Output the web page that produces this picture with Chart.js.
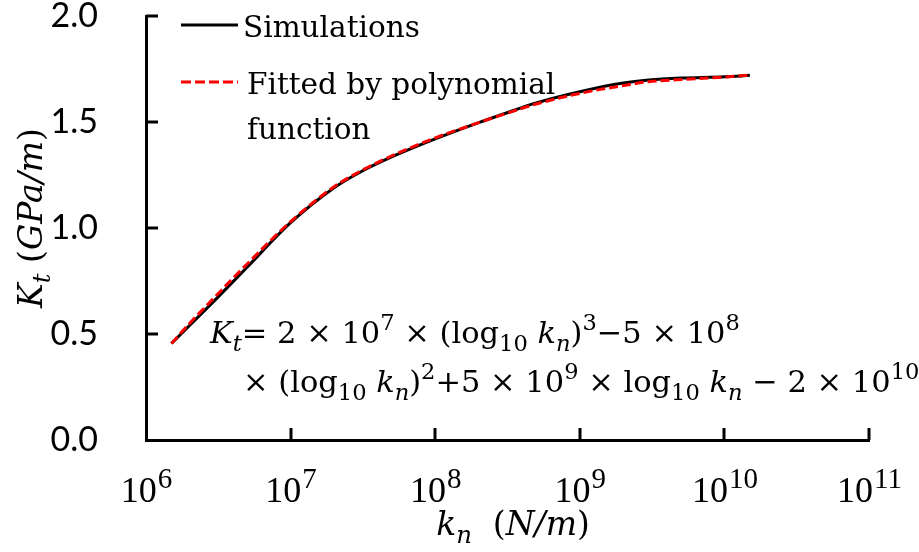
<!DOCTYPE html>
<html>
<head>
<meta charset="utf-8">
<script src="https://cdn.jsdelivr.net/npm/chart.js@4/dist/chart.umd.min.js"></script>
<style>
html,body{margin:0;padding:0;background:#fff;}
#wrap{width:919px;height:552px;}
</style>
</head>
<body>
<div id="wrap"><canvas id="c" width="919" height="552"></canvas></div>
<script>
// ---- data ----
const knValues = [1.5e6, 2e6, 3e6, 5e6, 1e7, 2e7, 3e7, 5e7, 1e8, 2e8, 3e8, 5e8, 1e9, 2e9, 3e9, 5e9, 1e10, 1.5e10];
const simulationKt = [0.455, 0.54, 0.66, 0.815, 1.025, 1.19, 1.262, 1.335, 1.42, 1.497, 1.539, 1.59, 1.643, 1.684, 1.698, 1.707, 1.713, 1.72];
const fittedKt = [0.455, 0.55, 0.675, 0.83, 1.03, 1.195, 1.266, 1.34, 1.425, 1.497, 1.537, 1.585, 1.635, 1.672, 1.69, 1.70, 1.712, 1.722];
const xTickExponents = [6, 7, 8, 9, 10, 11];
const yTickValues = [0, 0.5, 1.0, 1.5, 2.0];
const legendLabels = [["Simulations"], ["Fitted by polynomial", "function"]];

const SERIF = '"DejaVu Serif", serif';
const NUMSERIF = '"Liberation Serif", serif';

function font(size, italic, fam) { return (italic ? 'italic ' : '') + size + 'px ' + (fam || SERIF); }

// rich text: segments [text, italic, pos] pos: 'b' | 'sub' | 'sup'
function richWidth(ctx, segs, size, fam) {
  let w = 0;
  for (const [t, it, pos] of segs) {
    const s = pos === 'b' ? size : size * 0.74;
    ctx.font = font(s, it, fam);
    w += ctx.measureText(t).width;
  }
  return w;
}
function drawRich(ctx, segs, x, y, size, fam) {
  ctx.textBaseline = 'alphabetic';
  ctx.textAlign = 'left';
  for (const [t, it, pos] of segs) {
    const s = pos === 'b' ? size : size * 0.74;
    const dy = pos === 'sub' ? size * 0.25 : pos === 'sup' ? -size * 0.42 : 0;
    ctx.font = font(s, it, fam);
    ctx.fillText(t, x, y + dy);
    x += ctx.measureText(t).width;
  }
}

const decorPlugin = {
  id: 'decor',
  afterDraw(chart) {
    const ctx = chart.ctx;
    const xs = chart.scales.x, ys = chart.scales.y;
    const ca = chart.chartArea;
    ctx.save();
    ctx.fillStyle = '#000';
    ctx.strokeStyle = '#000';
    // inward tick marks
    ctx.lineWidth = 3;
    ctx.lineCap = 'butt';
    xTickExponents.forEach(e => {
      if (e === xTickExponents[0]) return;
      const px = Math.round(xs.getPixelForValue(Math.pow(10, e)));
      ctx.beginPath(); ctx.moveTo(px, ca.bottom); ctx.lineTo(px, ca.bottom - 12); ctx.stroke();
    });
    yTickValues.forEach(v => {
      if (v === 0) return;
      const py = Math.round(ys.getPixelForValue(v));
      ctx.beginPath(); ctx.moveTo(ca.left, py); ctx.lineTo(ca.left + 12, py); ctx.stroke();
    });
    // x tick labels 10^n
    xTickExponents.forEach(e => {
      const px = xs.getPixelForValue(Math.pow(10, e));
      ctx.font = font(36, false, NUMSERIF);
      const w1 = ctx.measureText('10').width;
      ctx.font = font(29, false, NUMSERIF);
      const w2 = ctx.measureText(String(e)).width;
      const x0 = px - (w1 + w2) / 2;
      ctx.textAlign = 'left'; ctx.textBaseline = 'alphabetic';
      ctx.font = font(36, false, NUMSERIF);
      ctx.fillText('10', x0, 502);
      ctx.font = font(29, false, NUMSERIF);
      ctx.fillText(String(e), x0 + w1 + 1, 488);
    });
    // x title
    const xt = [['k', true, 'b'], ['n', true, 'sub'], ['  (', false, 'b'], ['N/m', true, 'b'], [')', false, 'b']];
    const xw = richWidth(ctx, xt, 33);
    drawRich(ctx, xt, 513 - xw / 2, 535, 33);
    // y title (rotated)
    const yt = [['K', true, 'b'], ['t', true, 'sub'], [' (', false, 'b'], ['GPa/m', true, 'b'], [')', false, 'b']];
    const yw = richWidth(ctx, yt, 33);
    ctx.save();
    ctx.translate(42, 218);
    ctx.rotate(-Math.PI / 2);
    drawRich(ctx, yt, -yw / 2, 0, 33);
    ctx.restore();
    // legend
    const ds = chart.data.datasets;
    const legendRows = [{y: 25, ds: ds[0], lines: legendLabels[0], tx: 243}, {y: 82, ds: ds[1], lines: legendLabels[1], tx: 247}];
    legendRows.forEach(r => {
      ctx.save();
      ctx.strokeStyle = r.ds.borderColor;
      ctx.lineWidth = 3;
      ctx.setLineDash(r.ds.borderDash ? [10, 4] : []);
      ctx.beginPath(); ctx.moveTo(181, r.y); ctx.lineTo(238, r.y); ctx.stroke();
      ctx.restore();
      ctx.font = font(29.5, false);
      ctx.textAlign = 'left'; ctx.textBaseline = 'alphabetic';
      r.lines.forEach((t, i) => ctx.fillText(t, r.tx, r.y + 12 + i * 45));
    });
    // equation
    const eq1 = [['K', true, 'b'], ['t', true, 'sub'], ['= 2 × 10', false, 'b'], ['7', false, 'sup'], [' × (log', false, 'b'], ['10', false, 'sub'], [' ', false, 'b'], ['k', true, 'b'], ['n', true, 'sub'], [')', false, 'b'], ['3', false, 'sup'], ['−5 × 10', false, 'b'], ['8', false, 'sup']];
    const eq2 = [['× (log', false, 'b'], ['10', false, 'sub'], [' ', false, 'b'], ['k', true, 'b'], ['n', true, 'sub'], [')', false, 'b'], ['2', false, 'sup'], ['+5 × 10', false, 'b'], ['9', false, 'sup'], [' × log', false, 'b'], ['10', false, 'sub'], [' ', false, 'b'], ['k', true, 'b'], ['n', true, 'sub'], [' − 2 × 10', false, 'b'], ['10', false, 'sup']];
    drawRich(ctx, eq1, 210, 343, 30.5);
    drawRich(ctx, eq2, 243, 392, 30.5);
    ctx.restore();
  }
};

const pts = arr => knValues.map((k, i) => ({x: k, y: arr[i]}));

new Chart(document.getElementById('c'), {
  type: 'line',
  data: {
    datasets: [
      {label: 'Simulations', data: pts(simulationKt), borderColor: '#000000', borderWidth: 3, pointRadius: 0, cubicInterpolationMode: 'monotone', order: 2},
      {label: 'Fitted by polynomial function', data: pts(fittedKt), borderColor: '#ff0000', borderWidth: 3, borderDash: [9, 4], pointRadius: 0, cubicInterpolationMode: 'monotone', order: 1}
    ]
  },
  options: {
    responsive: false,
    animation: false,
    devicePixelRatio: 1,
    layout: {padding: {top: 16, right: 50, left: 0, bottom: 0}},
    plugins: {legend: {display: false}, tooltip: {enabled: false}},
    scales: {
      x: {
        type: 'logarithmic', min: Math.pow(10, xTickExponents[0]), max: Math.pow(10, xTickExponents[xTickExponents.length - 1]),
        grid: {display: false, drawTicks: false},
        border: {display: true, color: '#000', width: 3},
        ticks: {display: false},
        afterFit: s => { s.height = 112; s.paddingLeft = 0; s.paddingRight = 0; }
      },
      y: {
        type: 'linear', min: 0, max: 2,
        grid: {display: false, drawTicks: false},
        border: {display: true, color: '#000', width: 3},
        afterBuildTicks: s => { s.ticks = yTickValues.map(v => ({value: v})); },
        ticks: {padding: 48, color: '#000', font: {family: 'Lato', size: 34}, callback: v => v.toFixed(1)},
        afterFit: s => { s.width = 146; s.paddingTop = 0; s.paddingBottom = 0; }
      }
    }
  },
  plugins: [decorPlugin]
});
</script>
</body>
</html>
